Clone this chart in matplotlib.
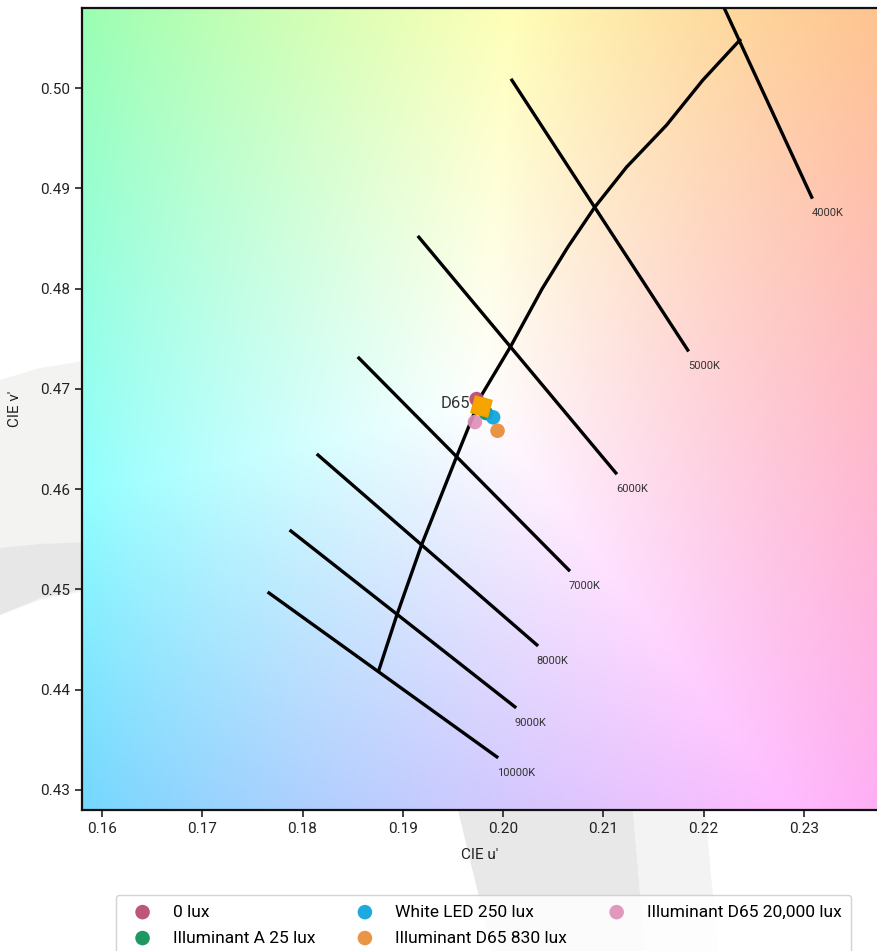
import numpy as np
import matplotlib.pyplot as plt
from matplotlib.patches import Polygon

plt.rcParams['font.family'] = ['Roboto', 'DejaVu Sans']

# Planckian locus in CIE 1976 u'v', from 10000K up to 4000K
locus_u = [0.18762, 0.18941, 0.19187, 0.19539, 0.19786, 0.20078,
           0.20390, 0.20646, 0.20915, 0.21231, 0.21630, 0.21992, 0.22361]
locus_v = [0.44197, 0.44746, 0.45444, 0.46331, 0.46939, 0.47428,
           0.48000, 0.48415, 0.48814, 0.49212, 0.49631, 0.50080, 0.50479]

# isotherm lines (start / end in u'v')
cct_labels = ['4000K', '5000K', '6000K', '7000K', '8000K', '9000K', '10000K']
iso_u0 = [0.21723, 0.20088, 0.19160, 0.18562, 0.18154, 0.17884, 0.17665]
iso_v0 = [0.51844, 0.50080, 0.48514, 0.47308, 0.46341, 0.45583, 0.44965]
iso_u1 = [0.23079, 0.21842, 0.21125, 0.20656, 0.20337, 0.20118, 0.19938]
iso_v1 = [0.48913, 0.47388, 0.46162, 0.45194, 0.44447, 0.43829, 0.43330]

# measured chromaticities
point_labels = ['0 lux', 'Illuminant A 25 lux', 'White LED 250 lux',
                'Illuminant D65 830 lux', 'Illuminant D65 20,000 lux']
point_u = [0.19736, 0.19829, 0.19901, 0.19945, 0.19719]
point_v = [0.46899, 0.46760, 0.46717, 0.46583, 0.46670]
point_colors = ['#b8476f', '#0b8f52', '#0ba3dd', '#e98b36', '#de90b8']

d65_u, d65_v = 0.1978, 0.4683

xlim = (0.158, 0.2373)
ylim = (0.428, 0.508)


def uv_to_rgb(u, v):
    d = 6 * u - 16 * v + 12
    x = 9 * u / d
    y = 4 * v / d
    X = x / y
    Z = (1 - x - y) / y
    M = np.array([[3.2406, -1.5372, -0.4986],
                  [-0.9689, 1.8758, 0.0415],
                  [0.0557, -0.2040, 1.0570]])
    xyz = np.stack([X, np.ones_like(X), Z], axis=-1)
    rgb = np.clip(xyz @ M.T, 0, None)
    rgb = rgb / rgb.max(axis=-1, keepdims=True)
    rgb = np.where(rgb <= 0.0031308, 12.92 * rgb,
                   1.055 * rgb ** (1 / 2.4) - 0.055)
    return np.clip(rgb, 0, 1)


fig = plt.figure(figsize=(8.77, 9.51), dpi=100)
W, H = 877.0, 951.0


def fig_poly(pts, color):
    xy = [(px / W, 1 - py / H) for px, py in pts]
    fig.add_artist(Polygon(xy, closed=True, facecolor=color, edgecolor='none',
                           transform=fig.transFigure, zorder=-1))


# faint backdrop shapes behind the plot
fig_poly([(0, 380), (40, 368), (90, 360), (90, 590), (40, 600), (0, 615)], '#f3f3f2')
fig_poly([(0, 548), (40, 544), (90, 542), (90, 588), (40, 598), (0, 615)], '#e7e7e7')
fig_poly([(458, 810), (633, 810), (645, 951), (492, 951)], '#e8e8e8')
fig_poly([(633, 810), (705, 810), (718, 951), (645, 951)], '#f3f3f3')

ax = fig.add_axes([82 / W, 1 - 810 / H, 1 - 82 / W, (810 - 8) / H])

gu = np.linspace(xlim[0], xlim[1], 400)
gv = np.linspace(ylim[0], ylim[1], 400)
UU, VV = np.meshgrid(gu, gv)
ax.imshow(uv_to_rgb(UU, VV), origin='lower', extent=(*xlim, *ylim),
          aspect='auto', interpolation='bilinear', zorder=0)

ax.plot(locus_u, locus_v, color='black', lw=2.4, zorder=2)
for lab, u0, v0, u1, v1 in zip(cct_labels, iso_u0, iso_v0, iso_u1, iso_v1):
    ax.plot([u0, u1], [v0, v1], color='black', lw=2.4, zorder=2)
    ax.annotate(lab, (u1, v1), xytext=(0, -11.5), textcoords='offset points',
                ha='left', va='center', fontsize=8, color='#333333')

for u, v, c, lab in zip(point_u, point_v, point_colors, point_labels):
    ax.scatter(u, v, s=110, color=c, alpha=0.92, edgecolors='none',
               label=lab, zorder=3)

ax.scatter(d65_u, d65_v, marker=(4, 0, 30), s=310, color='#f5a400',
           edgecolors='#f0a000', zorder=4)
ax.annotate('D65', (d65_u, d65_v), xytext=(-8, 2), textcoords='offset points',
            ha='right', va='center', fontsize=12, color='#333333')

ax.set_xlim(*xlim)
ax.set_ylim(*ylim)
ax.set_xticks(np.arange(0.16, 0.2351, 0.01))
ax.set_yticks(np.arange(0.43, 0.5051, 0.01))
ax.xaxis.set_major_formatter(plt.FormatStrFormatter('%.2f'))
ax.yaxis.set_major_formatter(plt.FormatStrFormatter('%.2f'))
ax.tick_params(labelsize=11, length=5, width=1.2, color='#222222',
               labelcolor='#222222')
for sp in ax.spines.values():
    sp.set_linewidth(1.6)
    sp.set_color('#111111')
ax.spines['right'].set_visible(False)
ax.set_xlabel("CIE u'", fontsize=11, color='#222222', labelpad=9)
ax.set_ylabel("CIE v'", fontsize=11, color='#222222', labelpad=13)

handles, labels = ax.get_legend_handles_labels()
fig.legend(handles, labels, loc='upper center', bbox_to_anchor=(0.5513, 1 - 895 / H),
           ncol=3, fontsize=12.5, borderaxespad=0, columnspacing=1.85,
           labelspacing=0.62, borderpad=0.55, handletextpad=0.75,
           edgecolor='#cccccc', framealpha=0.85)

fig.savefig('out.png', dpi=100)
